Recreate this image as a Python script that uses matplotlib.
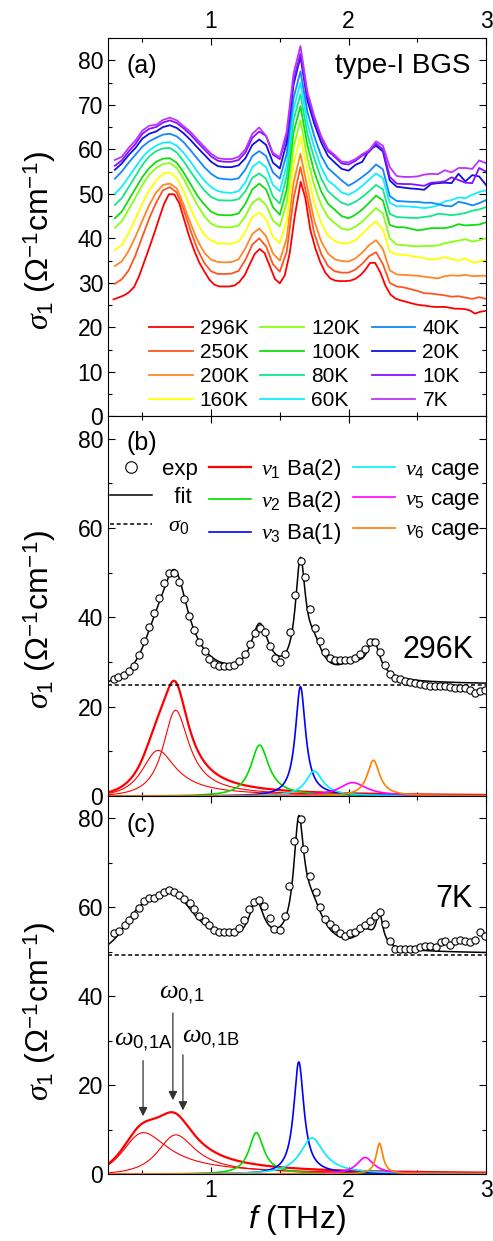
import numpy as np
import matplotlib
matplotlib.use("Agg")
import matplotlib.pyplot as plt
from matplotlib.ticker import MultipleLocator

plt.rcParams["font.family"] = ["Liberation Sans", "DejaVu Sans"]
plt.rcParams["mathtext.fontset"] = "custom"
plt.rcParams["mathtext.rm"] = "Liberation Sans"
plt.rcParams["mathtext.it"] = "Liberation Serif:italic"
plt.rcParams["mathtext.sf"] = "Liberation Sans:italic"
plt.rcParams["mathtext.bf"] = "Liberation Sans:bold"

# ---- panel (a): sigma_1 spectra at all temperatures -------------------------
freq_grid = [0.30, 0.35, 0.40, 0.45, 0.50, 0.55, 0.60, 0.65, 0.70, 0.75,
             0.80, 0.85, 0.90, 0.95, 1.00, 1.05, 1.10, 1.15, 1.20, 1.25,
             1.30, 1.35, 1.40, 1.45, 1.50, 1.55, 1.60, 1.65, 1.70, 1.75,
             1.80, 1.85, 1.90, 1.95, 2.00, 2.05, 2.10, 2.15, 2.20, 2.25,
             2.30, 2.35, 2.40, 2.45, 2.50, 2.55, 2.60, 2.65, 2.70, 2.75,
             2.80, 2.85, 2.90, 2.95, 3.00]

temps = ["296K", "250K", "200K", "160K", "120K", "100K",
         "80K", "60K", "40K", "20K", "10K", "7K"]
temp_colors = ["#ff0000", "#ff5522", "#ff8822", "#ffff00", "#88ff11", "#11dd11",
               "#11e888", "#11eeff", "#1188ff", "#1111dd", "#8811ff", "#bb33ff"]

s_250k = [29.8, 30.8, 32.8, 36.2, 40.4, 44.5, 48.0, 50.8, 51.5, 50.3,
          46.5, 41.8, 37.6, 34.5, 32.6, 32.0, 32.0, 32.1, 32.7, 35.2,
          38.6, 40.0, 38.2, 34.2, 32.5, 37.0, 49.0, 56.0, 49.0, 41.2,
          36.6, 33.8, 32.6, 32.3, 32.3, 33.0, 34.3, 36.0, 36.9, 34.2,
          30.0, 29.2, 29.0, 28.6, 28.2, 27.7, 27.6, 27.4, 27.2, 26.9,
          27.0, 26.7, 26.4, 26.8, 26.4]
s_200k = [33.8, 34.8, 37.2, 40.4, 44.0, 47.5, 50.3, 52.0, 52.3, 51.2,
          47.6, 43.4, 39.6, 36.8, 35.2, 34.7, 34.6, 34.7, 35.3, 37.8,
          41.0, 42.2, 40.5, 36.6, 35.0, 40.0, 52.5, 59.0, 51.5, 44.0,
          39.4, 36.6, 35.3, 34.9, 34.8, 35.5, 36.8, 38.5, 39.6, 37.6,
          32.8, 31.9, 31.8, 31.7, 31.6, 31.4, 31.2, 31.0, 31.5, 31.7,
          31.6, 31.8, 31.5, 31.6, 31.6]
s_160k = [37.4, 38.5, 41.2, 44.4, 47.8, 50.8, 53.0, 54.5, 54.8, 53.6,
          50.6, 46.8, 43.4, 40.8, 39.5, 38.9, 38.8, 38.8, 39.3, 41.5,
          44.8, 45.8, 44.3, 40.4, 38.9, 44.0, 56.5, 63.0, 55.0, 48.0,
          43.5, 40.6, 39.4, 38.9, 38.9, 39.6, 41.0, 42.6, 43.8, 42.0,
          37.0, 36.4, 36.3, 36.1, 35.8, 35.6, 35.2, 35.4, 35.8, 35.4,
          35.0, 35.5, 34.6, 34.8, 35.2]
s_120k = [42.4, 43.8, 46.5, 49.2, 52.0, 54.3, 55.8, 56.7, 56.9, 55.8,
          53.4, 50.4, 47.5, 45.0, 43.3, 42.6, 42.5, 42.5, 42.9, 45.0,
          48.0, 49.0, 47.5, 44.0, 42.7, 48.0, 60.5, 66.5, 58.0, 52.0,
          47.6, 44.8, 43.4, 42.2, 41.9, 42.6, 43.8, 45.3, 46.8, 45.6,
          40.0, 38.6, 38.5, 38.3, 38.2, 38.3, 38.3, 38.4, 38.9, 39.2,
          39.5, 39.8, 39.3, 39.6, 40.0]
s_100k = [44.5, 46.0, 48.6, 51.2, 53.8, 55.8, 57.2, 57.9, 58.0, 57.0,
          54.8, 52.2, 49.6, 47.6, 46.0, 45.3, 45.2, 45.2, 45.6, 47.8,
          51.0, 52.3, 51.0, 47.0, 45.3, 51.0, 63.8, 69.7, 61.0, 55.0,
          50.6, 47.8, 46.4, 45.0, 44.5, 45.3, 46.5, 48.0, 49.6, 48.5,
          43.0, 42.5, 42.5, 42.2, 41.8, 42.0, 42.3, 42.3, 42.3, 42.6,
          43.2, 42.9, 43.0, 43.1, 43.6]
s_80k = [47.5, 49.0, 51.5, 54.0, 56.5, 58.4, 59.6, 60.2, 60.3, 59.3,
         57.3, 55.0, 52.8, 50.8, 49.3, 48.6, 48.5, 48.5, 48.8, 50.6,
         53.6, 54.6, 53.4, 49.4, 47.8, 54.0, 66.5, 72.4, 63.5, 58.0,
         53.5, 50.6, 49.2, 48.0, 47.5, 48.2, 49.3, 50.6, 52.0, 51.0,
         45.5, 44.8, 44.7, 44.6, 44.6, 44.8, 45.0, 45.5, 45.4, 45.2,
         45.4, 45.7, 46.2, 46.5, 47.0]
s_60k = [50.0, 51.6, 53.8, 56.0, 58.2, 59.8, 60.8, 61.5, 61.6, 60.8,
         59.2, 57.2, 55.0, 53.0, 51.5, 50.6, 50.3, 50.2, 50.6, 52.6,
         56.0, 57.2, 56.0, 52.0, 50.6, 56.5, 69.0, 75.0, 66.0, 60.5,
         56.0, 53.0, 51.8, 50.3, 49.8, 50.6, 51.8, 53.2, 54.6, 53.5,
         48.0, 47.2, 47.2, 47.1, 47.0, 46.8, 47.0, 47.4, 48.3, 48.6,
         49.2, 49.0, 49.8, 50.4, 50.8]
s_40k = [53.4, 55.0, 57.0, 58.8, 60.6, 61.8, 62.6, 63.3, 63.5, 62.9,
         61.6, 59.8, 57.9, 56.0, 54.5, 53.5, 53.3, 53.2, 53.5, 55.5,
         58.5, 59.6, 58.5, 54.8, 53.4, 59.0, 71.5, 77.5, 68.5, 63.0,
         58.6, 55.8, 54.4, 53.0, 51.8, 52.7, 53.8, 55.0, 56.6, 55.5,
         49.5, 48.4, 48.3, 48.2, 48.2, 48.0, 48.0, 47.7, 47.3, 47.2,
         48.2, 47.9, 47.4, 47.9, 48.6]
s_20k = [55.4, 56.8, 58.7, 60.3, 62.4, 63.5, 64.0, 65.0, 65.4, 64.8,
         63.6, 62.1, 60.4, 58.8, 57.2, 56.2, 56.0, 56.0, 56.4, 58.0,
         61.0, 62.2, 61.0, 57.0, 55.7, 61.5, 74.5, 80.8, 71.0, 65.8,
         61.6, 58.5, 57.0, 55.6, 55.2, 56.5, 57.2, 59.8, 60.8, 59.5,
         53.0, 51.6, 51.4, 51.2, 51.1, 50.9, 52.2, 52.4, 52.5, 52.4,
         54.5, 52.8, 54.2, 53.9, 52.0]
s_10k = [56.3, 57.5, 59.5, 61.2, 63.5, 64.6, 65.0, 66.0, 66.5, 65.9,
         64.7, 63.3, 61.6, 60.0, 58.4, 57.4, 57.2, 57.2, 57.6, 59.3,
         62.6, 64.0, 63.0, 58.8, 57.8, 63.0, 75.5, 81.5, 72.0, 66.8,
         62.5, 59.6, 58.3, 56.8, 56.6, 57.4, 58.6, 59.4, 61.3, 60.0,
         53.8, 52.3, 52.2, 52.2, 52.0, 51.8, 52.5, 52.6, 52.8, 53.7,
         53.1, 52.5, 52.4, 55.8, 55.0]
s_7k = [57.6, 58.3, 60.3, 62.0, 64.2, 65.3, 65.5, 66.6, 67.1, 66.5,
        65.2, 63.9, 62.2, 60.6, 59.0, 58.0, 57.8, 57.8, 58.3, 60.0,
        63.5, 64.9, 63.0, 59.2, 58.2, 64.0, 77.0, 83.2, 73.0, 67.5,
        63.0, 60.0, 58.7, 57.2, 57.1, 57.8, 58.9, 59.8, 61.8, 60.8,
        56.0, 54.0, 53.8, 53.8, 53.9, 54.3, 54.5, 54.4, 55.3, 54.8,
        55.8, 55.8, 55.6, 57.5, 56.9]

# ---- panel (b): 296K measured points and Lorentz fit parameters --------------
f_exp_296k = [0.290, 0.326, 0.367, 0.403, 0.440, 0.476, 0.512, 0.549, 0.585, 0.621,
              0.657, 0.693, 0.732, 0.768, 0.804, 0.841, 0.879, 0.915, 0.952, 0.988,
              1.024, 1.060, 1.097, 1.133, 1.169, 1.205, 1.244, 1.280, 1.317, 1.353,
              1.389, 1.428, 1.464, 1.500, 1.536, 1.572, 1.609, 1.652, 1.686, 1.722,
              1.759, 1.795, 1.831, 1.867, 1.904, 1.940, 1.976, 2.012, 2.049, 2.085,
              2.121, 2.157, 2.193, 2.232, 2.268, 2.304, 2.341, 2.377, 2.413, 2.449,
              2.486, 2.522, 2.558, 2.594, 2.630, 2.667, 2.703, 2.739, 2.775, 2.812,
              2.848, 2.884, 2.920, 2.957, 2.993]
s_exp_296k = [26.3, 26.7, 27.2, 27.9, 29.1, 31.5, 34.6, 37.8, 41.0, 44.4,
              47.7, 49.9, 49.9, 47.9, 44.2, 40.4, 37.1, 34.5, 32.5, 30.7,
              29.6, 29.2, 29.2, 29.2, 29.4, 30.2, 31.7, 34.1, 36.5, 37.6,
              36.7, 33.7, 30.9, 29.9, 31.7, 36.7, 45.1, 52.7, 49.0, 41.9,
              37.7, 34.6, 32.3, 31.0, 30.5, 30.4, 30.4, 30.5, 30.9, 31.7,
              32.9, 34.5, 34.5, 32.3, 29.4, 27.4, 26.5, 26.1, 25.8, 25.5,
              25.2, 25.0, 24.9, 24.7, 24.6, 24.6, 24.6, 24.4, 24.2, 24.2,
              24.1, 23.8, 23.1, 23.5, 23.7]

# oscillators: nu1A, nu1B, nu2, nu3, nu4, nu5, nu6
sigma0_296k = 24.8
f0_296k = [0.615, 0.742, 1.353, 1.650, 1.750, 2.030, 2.181]
height_296k = [10.2, 19.2, 11.4, 24.5, 5.6, 3.0, 8.0]
width_296k = [0.30, 0.23, 0.16, 0.09, 0.15, 0.24, 0.11]

# ---- panel (c): 7K ---------------------------------------------------------
f_exp_7k = [0.295, 0.331, 0.370, 0.406, 0.442, 0.478, 0.514, 0.551, 0.587, 0.623,
            0.659, 0.696, 0.732, 0.768, 0.804, 0.843, 0.879, 0.915, 0.952, 0.988,
            1.024, 1.060, 1.097, 1.133, 1.169, 1.205, 1.242, 1.278, 1.314, 1.350,
            1.386, 1.425, 1.461, 1.498, 1.534, 1.570, 1.606, 1.652, 1.676, 1.722,
            1.761, 1.795, 1.831, 1.867, 1.904, 1.940, 1.976, 2.012, 2.049, 2.085,
            2.121, 2.157, 2.193, 2.230, 2.268, 2.304, 2.341, 2.377, 2.413, 2.449,
            2.486, 2.522, 2.558, 2.594, 2.633, 2.669, 2.705, 2.741, 2.777, 2.814,
            2.850, 2.886, 2.922, 2.959, 2.995]
s_exp_7k = [54.2, 54.6, 55.9, 57.2, 58.3, 59.8, 61.3, 62.0, 62.1, 62.7,
            63.5, 63.8, 63.5, 62.7, 61.8, 60.9, 59.6, 58.1, 56.8, 55.9,
            54.9, 54.5, 54.5, 54.5, 54.5, 55.4, 57.2, 59.6, 61.2, 61.6,
            60.3, 57.5, 55.1, 54.9, 57.9, 64.8, 74.9, 79.9, 73.0, 67.1,
            63.3, 60.0, 57.3, 56.2, 55.3, 54.1, 53.6, 54.1, 54.5, 55.3,
            55.9, 56.8, 58.1, 59.0, 56.2, 52.5, 50.6, 50.5, 50.5, 50.5,
            50.6, 51.0, 51.2, 51.2, 51.0, 52.1, 52.5, 51.5, 52.5, 52.6,
            52.5, 52.1, 52.6, 54.4, 53.6]

sigma0_7k = 49.3
f0_7k = [0.509, 0.744, 1.329, 1.638, 1.734, 2.121, 2.225]
height_7k = [9.3, 8.8, 9.3, 25.2, 8.1, 3.7, 6.9]
width_7k = [0.41, 0.34, 0.13, 0.09, 0.21, 0.15, 0.06]

mode_labels = [r"$\nu_1$ Ba(2)", r"$\nu_2$ Ba(2)", r"$\nu_3$ Ba(1)",
               r"$\nu_4$ cage", r"$\nu_5$ cage", r"$\nu_6$ cage"]
mode_colors = ["#ff0000", "#00dd00", "#0000ff", "#00eeff", "#ff00ff", "#ff8000"]

YLABEL = r"$\sigma_1$ (Ω$^{-1}$cm$^{-1}$)"


def lorentz(f, f0, height, width):
    wf = width * f
    return height * wf ** 2 / ((f0 ** 2 - f ** 2) ** 2 + wf ** 2)


def style_axis(ax, major, minor):
    ax.set_xlim(0.25, 3.0)
    ax.set_ylim(0, 85)
    ax.xaxis.set_major_locator(MultipleLocator(1))
    ax.xaxis.set_minor_locator(MultipleLocator(0.5))
    ax.yaxis.set_major_locator(MultipleLocator(major))
    ax.yaxis.set_minor_locator(MultipleLocator(minor))
    ax.tick_params(which="both", direction="in", top=True, right=True,
                   labelsize=16.5, width=0.8)
    ax.tick_params(which="major", length=5)
    ax.tick_params(which="minor", length=3)
    for spine in ax.spines.values():
        spine.set_linewidth(0.8)
    ax.set_ylabel(YLABEL, fontsize=23)
    ax.yaxis.label.set_verticalalignment("center")


def fit_panel(ax, f_exp, s_exp, sigma0, f0s, heights, widths):
    f = np.linspace(0.25, 3.0, 900)
    comps = [lorentz(f, a, b, c) for a, b, c in zip(f0s, heights, widths)]
    ax.plot(f, comps[0], color=mode_colors[0], lw=0.8)
    ax.plot(f, comps[1], color=mode_colors[0], lw=0.8)
    handles = []
    h, = ax.plot(f, comps[0] + comps[1], color=mode_colors[0], lw=1.6)
    handles.append(h)
    for comp, color in zip(comps[2:], mode_colors[1:]):
        h, = ax.plot(f, comp, color=color, lw=1.2)
        handles.append(h)
    h_s0 = ax.axhline(sigma0, color="black", lw=1.1, ls=(0, (2.6, 1.8)))
    h_fit, = ax.plot(f, sigma0 + np.sum(comps, axis=0), color="black", lw=1.1)
    h_exp, = ax.plot(f_exp, s_exp, "o", mfc="white", mec="black", ms=5.2, mew=0.8)
    return [h_exp, h_fit, h_s0] + handles


fig = plt.figure(figsize=(4.93, 12.41), dpi=100)
left, width = 0.2191, 0.7667
ax_a = fig.add_axes([left, 0.6644, width, 0.3050])
ax_b = fig.add_axes([left, 0.3586, width, 0.3058])
ax_c = fig.add_axes([left, 0.0540, width, 0.3046])

# (a)
style_axis(ax_a, 10, 5)
ax_a.plot(f_exp_296k, s_exp_296k, color=temp_colors[0], lw=1.3, label=temps[0])
for name, series, color in zip(temps[1:],
                               [s_250k, s_200k, s_160k, s_120k, s_100k, s_80k,
                                s_60k, s_40k, s_20k, s_10k, s_7k],
                               temp_colors[1:]):
    ax_a.plot(freq_grid, series, color=color, lw=1.3, label=name)
ax_a.tick_params(labeltop=True, labelbottom=False)
ax_a.yaxis.set_label_coords(-0.18, 0.466)
ax_a.text(0.05, 0.926, "(a)", transform=ax_a.transAxes, fontsize=18, va="center")
ax_a.text(0.958, 0.926, "type-I BGS", transform=ax_a.transAxes, fontsize=20,
          va="center", ha="right")
ax_a.legend(ncol=3, loc="lower left", bbox_to_anchor=(0.108, 0.016), frameon=False,
            fontsize=15, handlelength=2.1, handletextpad=0.34, columnspacing=0.55,
            labelspacing=0.24, borderpad=0, borderaxespad=0)

# (b)
style_axis(ax_b, 20, 10)
hb = fit_panel(ax_b, f_exp_296k, s_exp_296k, sigma0_296k,
               f0_296k, height_296k, width_296k)
ax_b.tick_params(labelbottom=False)
ax_b.yaxis.set_label_coords(-0.18, 0.466)
ax_b.text(0.05, 0.93, "(b)", transform=ax_b.transAxes, fontsize=18, va="center")
ax_b.text(0.966, 0.385, "296K", transform=ax_b.transAxes, fontsize=22,
          va="center", ha="right")
ax_b.legend(hb, ["exp", "  fit", r" $\sigma_0$"] + mode_labels, ncol=3,
            loc="upper left", bbox_to_anchor=(0.005, 0.893), frameon=False,
            fontsize=16, handlelength=1.9, handletextpad=0.45, columnspacing=0.5,
            labelspacing=0.32, borderpad=0, borderaxespad=0, markerscale=1.6)

# (c)
style_axis(ax_c, 20, 10)
fit_panel(ax_c, f_exp_7k, s_exp_7k, sigma0_7k, f0_7k, height_7k, width_7k)
ax_c.yaxis.set_label_coords(-0.18, 0.431)
ax_c.set_xlabel(r"$\mathsf{f}$ (THz)", fontsize=23)
ax_c.xaxis.set_label_coords(0.5, -0.122)
ax_c.xaxis.label.set_verticalalignment("center")
ax_c.text(0.05, 0.923, "(c)", transform=ax_c.transAxes, fontsize=18, va="center")
ax_c.text(0.966, 0.727, "7K", transform=ax_c.transAxes, fontsize=22,
          va="center", ha="right")

arrow = dict(arrowstyle="-|>", color="#333333", lw=0.9, mutation_scale=13,
             shrinkA=0, shrinkB=0)
ax_c.annotate("", xy=(0.505, 13.0), xytext=(0.505, 25.5), arrowprops=arrow)
ax_c.annotate("", xy=(0.722, 16.6), xytext=(0.722, 36.2), arrowprops=arrow)
ax_c.annotate("", xy=(0.795, 14.3), xytext=(0.795, 26.8), arrowprops=arrow)
ax_c.text(0.504, 30.0, r"$\omega_{\mathrm{0{,}1A}}$", fontsize=19, ha="center", va="center")
ax_c.text(0.785, 40.5, r"$\omega_{\mathrm{0{,}1}}$", fontsize=19, ha="center", va="center")
ax_c.text(1.0, 30.6, r"$\omega_{\mathrm{0{,}1B}}$", fontsize=19, ha="center", va="center")

fig.savefig("out.png", dpi=100)
plt.close(fig)
